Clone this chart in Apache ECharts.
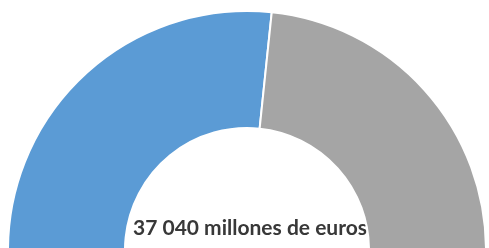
<!DOCTYPE html>
<html>
<head>
<meta charset="utf-8">
<script src="https://cdn.jsdelivr.net/npm/echarts@6/dist/echarts.min.js"></script>
<style>
  html, body { margin: 0; padding: 0; background: #fff; }
  #chart-container { width: 489px; height: 248px; }
</style>
</head>
<body>
<div id="chart-container"></div>
<script>
// shares of the total
const categories = ['A', 'B'];
const values = [53.3, 46.7];
const colors = ['#5b9bd5', '#a5a5a5'];
const totalLabel = '37 040 millones de euros';

const chartContainer = document.getElementById('chart-container');
const myChart = echarts.init(chartContainer, null, { renderer: 'canvas' });

let option = {
  backgroundColor: '#fff',
  animation: false,
  series: [
    {
      type: 'pie',
      center: [247, 250],
      radius: [122, 239],
      startAngle: 180,
      endAngle: 360,
      label: { show: false },
      labelLine: { show: false },
      itemStyle: {
        borderColor: '#fff',
        borderWidth: 2
      },
      data: categories.map((c, i) => ({
        name: c,
        value: values[i],
        itemStyle: { color: colors[i] }
      }))
    }
  ],
  graphic: [
    {
      type: 'text',
      x: 250,
      y: 228,
      style: {
        text: totalLabel,
        fill: '#383838',
        font: 'bold 21px Lato',
        textAlign: 'center',
        textVerticalAlign: 'middle'
      }
    }
  ]
};

myChart.setOption(option);
window.addEventListener('resize', myChart.resize);
</script>
</body>
</html>
